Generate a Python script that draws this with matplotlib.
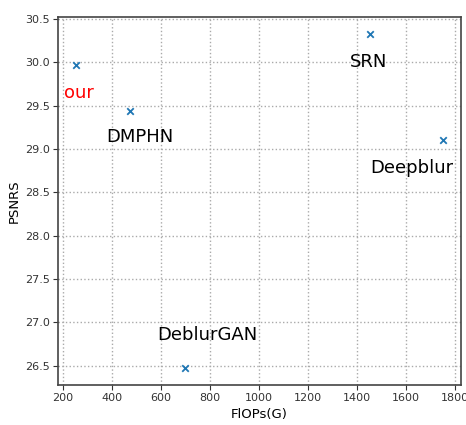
import matplotlib
matplotlib.use('Agg')
import matplotlib.pyplot as plt

# model names, FLOPs (G) and PSNR values
names = ['our', 'DMPHN', 'SRN', 'Deepblur', 'DeblurGAN']
flops = [255, 472, 1452, 1748, 698]
psnr = [29.97, 29.44, 30.33, 29.10, 26.47]

# where each name is written (left edge, vertical centre)
label_x = [204, 378, 1370, 1453, 584]
label_y = [29.65, 29.14, 30.00, 28.78, 26.86]
label_colors = ['red', 'black', 'black', 'black', 'black']

fig = plt.figure(figsize=(4.66, 4.25), dpi=100)
ax = fig.add_axes([0.1245, 0.094, 0.8645, 0.866])

ax.scatter(flops, psnr, marker='x', color='tab:blue', s=22, linewidths=1.3, zorder=3)

for name, tx, ty, c in zip(names, label_x, label_y, label_colors):
    ax.text(tx, ty, name, color=c, fontsize=13, ha='left', va='center')

ax.set_xticks(range(200, 1801, 200))
ax.set_yticks([26.5, 27.0, 27.5, 28.0, 28.5, 29.0, 29.5, 30.0, 30.5])
ax.tick_params(labelsize=8, colors='#333333', pad=2.5)
ax.grid(True, linestyle=':', color='#aaaaaa', linewidth=1.0)

for sp in ax.spines.values():
    sp.set_color('#444444')
    sp.set_linewidth(1.2)

ax.set_xlabel('FlOPs(G)', fontsize=9.5, labelpad=3)
ax.set_ylabel('PSNRS', fontsize=9.5, labelpad=3)

fig.savefig('out.png', dpi=100)
